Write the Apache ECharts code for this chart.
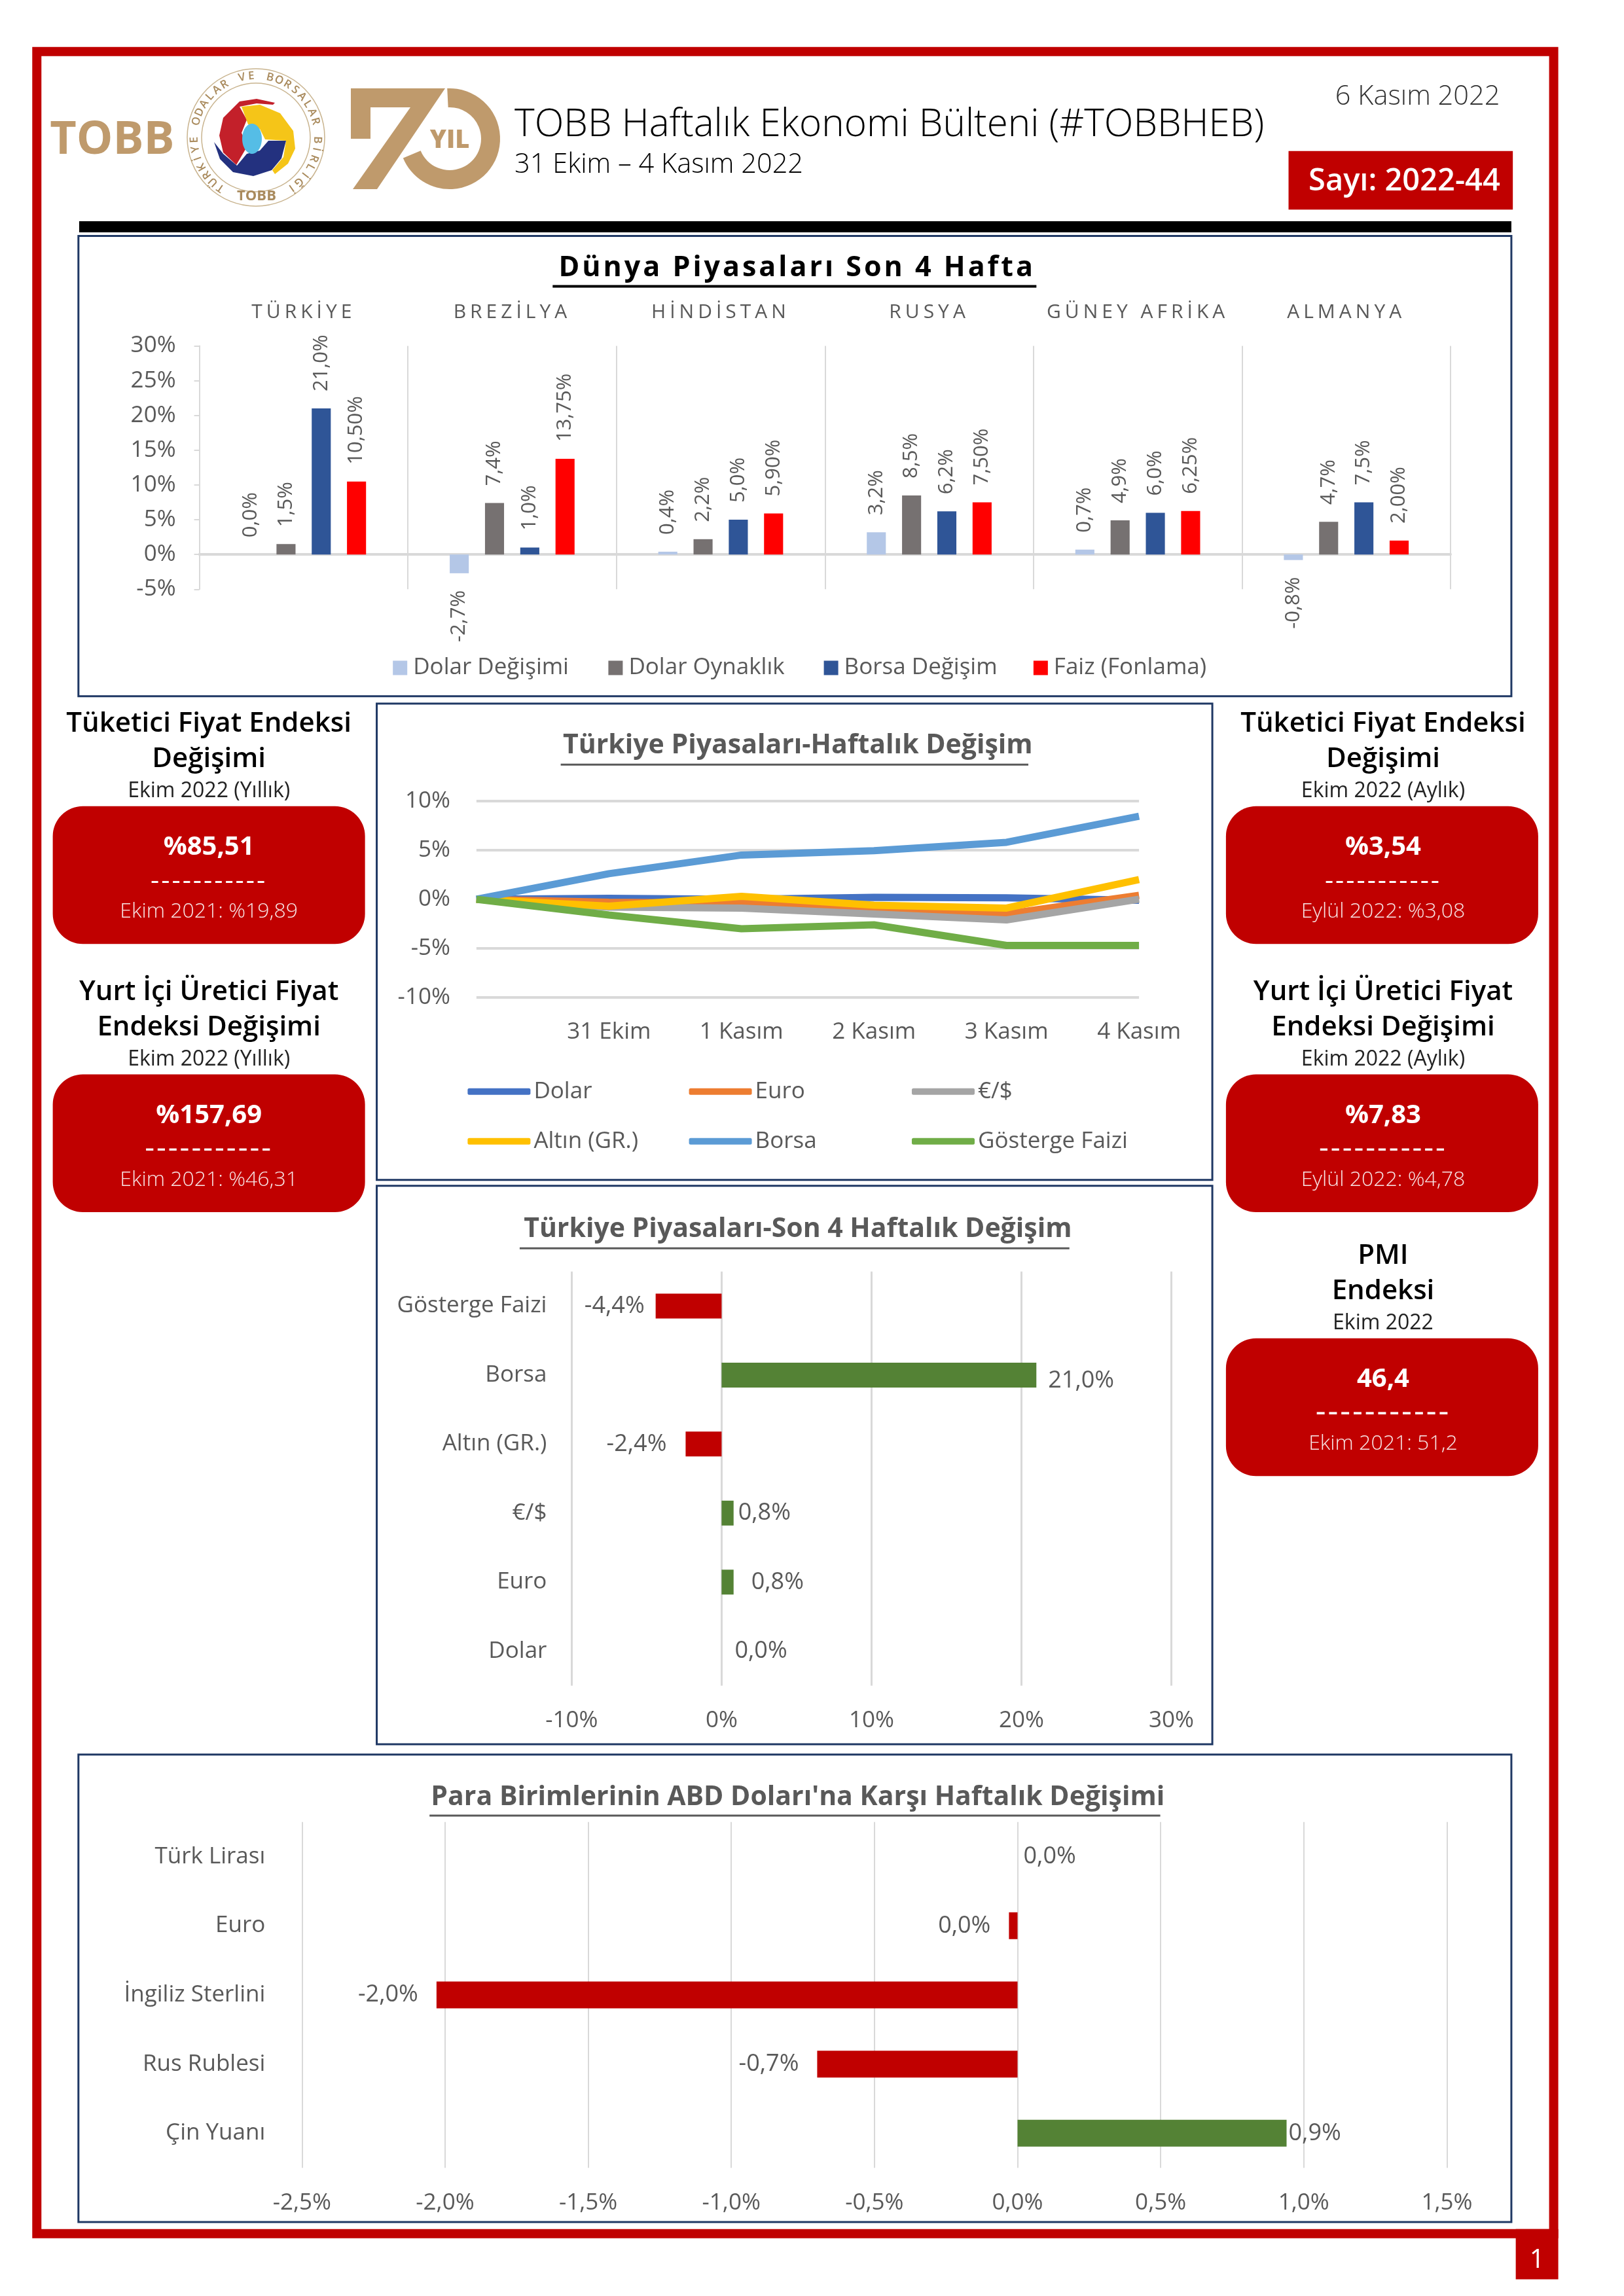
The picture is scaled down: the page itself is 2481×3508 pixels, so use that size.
<!DOCTYPE html>
<html><head><meta charset="utf-8">
<style>html,body{margin:0;padding:0;background:#fff}#c{width:2481px;height:3508px}</style>
<script src="https://cdn.jsdelivr.net/npm/echarts@6/dist/echarts.min.js"></script>
</head><body><div id="c"></div>
<script>
// ---------- data ----------
const countries = ['TÜRKİYE','BREZİLYA','HİNDİSTAN','RUSYA','GÜNEY AFRİKA','ALMANYA'];
const dolarDegisimi = [0.0,-2.7,0.4,3.2,0.7,-0.8];
const dolarOynaklik = [1.5,7.4,2.2,8.5,4.9,4.7];
const borsaDegisim  = [21.0,1.0,5.0,6.2,6.0,7.5];
const faizFonlama   = [10.5,13.75,5.9,7.5,6.25,2.0];

const days = ['','31 Ekim','1 Kasım','2 Kasım','3 Kasım','4 Kasım'];
const lineDolar  = [0,0.1,0,0.2,0.15,-0.1];
const lineEuro   = [0,-0.3,-0.4,-1.0,-1.5,0.4];
const lineEurUsd = [0,-0.8,-0.9,-1.5,-2.1,0.0];
const lineAltin  = [0,-0.7,0.3,-0.6,-0.9,2.0];
const lineBorsa  = [0,2.6,4.5,4.95,5.8,8.45];
const lineFaiz   = [0,-1.6,-3.0,-2.6,-4.7,-4.7];

const assets = ['Gösterge Faizi','Borsa','Altın (GR.)','€/$','Euro','Dolar'];
const assetChange = [-4.4,21.0,-2.4,0.8,0.8,0.0];

const currencies = ['Türk Lirası','Euro','İngiliz Sterlini','Rus Rublesi','Çin Yuanı'];
const currencyChange = [0.0,-0.03,-2.03,-0.70,0.94];

const kpiTitles = [['Tüketici Fiyat Endeksi','Değişimi'],['Yurt İçi Üretici Fiyat','Endeksi Değişimi'],['Tüketici Fiyat Endeksi','Değişimi'],['Yurt İçi Üretici Fiyat','Endeksi Değişimi'],['PMI','Endeksi']];
const kpiSubs   = ['Ekim 2022 (Yıllık)','Ekim 2022 (Yıllık)','Ekim 2022 (Aylık)','Ekim 2022 (Aylık)','Ekim 2022'];
const kpiValues = ['%85,51','%157,69','%3,54','%7,83','46,4'];
const kpiPrev   = ['Ekim 2021: %19,89','Ekim 2021: %46,31','Eylül 2022: %3,08','Eylül 2022: %4,78','Ekim 2021: 51,2'];

// ---------- helpers ----------
const d = v => v * 2.2395;
const FF = '"Open Sans"';
const GREY = '#595959', LINE = '#d9d9d9', RED = '#c00000', GREEN = '#548235', NAVY = '#1f3864', GOLD = '#bf9a6c';
const pct = (v, n) => (Math.abs(v) < 0.05 && n === 1 ? 0 : v).toFixed(n).replace('.', ',') + '%';

// letter-spaced strings of the reference
const spaced = {'Dünya Piyasaları Son 4 Hafta':'4px','-----------':'3px'};
countries.forEach(c => spaced[c] = '6px');
const _ft = CanvasRenderingContext2D.prototype.fillText;
CanvasRenderingContext2D.prototype.fillText = function (t, x, y, w) {
  if ('letterSpacing' in this) this.letterSpacing = spaced[t] || '0px';
  return w === undefined ? _ft.call(this, t, x, y) : _ft.call(this, t, x, y, w);
};

const graphics = [];
const txt = (s, x, y, size, o = {}) => graphics.push({type:'text', x, y, z:o.z||5, rotation:o.rot||0,
  style:{text:s, fill:o.color||'#000', fontFamily:o.family||FF, fontSize:size, fontWeight:o.weight||400,
         align:o.align||'center', verticalAlign:'middle'}});
const rect = (x0,y0,x1,y1,o={}) => graphics.push({type:'rect', z:o.z||1,
  shape:{x:x0,y:y0,width:x1-x0,height:y1-y0,r:o.r||0},
  style:{fill:o.fill||'none', stroke:o.stroke||null, lineWidth:o.lw||0}});
const poly = (pts, fill) => graphics.push({type:'polygon', z:3, shape:{points:pts}, style:{fill}});

// page frame
rect(d(22)+7, d(32)+7, d(1063)-7, d(1527)-7, {stroke:RED, lw:14});
rect(d(1034), d(1527)-14, d(1063), d(1555), {fill:RED});
txt('1', d(1048.5), d(1542), 40, {color:'#fff'});
rect(d(54), 338, d(1031), 355, {fill:'#000'});

// header text
txt('TOBB Haftalık Ekonomi Bülteni (#TOBBHEB)', d(351), d(85.5), 58.4, {align:'left', weight:300});
txt('31 Ekim – 4 Kasım 2022', d(351), d(112.5), 41.5, {align:'left', weight:300});
txt('6 Kasım 2022', d(967), d(66), 41.5, {weight:300, color:'#333'});
rect(d(879), d(103), d(1032), d(143), {fill:RED});
txt('Sayı: 2022-44', d(958), d(124), 47, {color:'#fff', weight:600});

// TOBB wordmark
txt('TOBB', d(76.5), 215, 70, {color:GOLD, weight:700});
// seal
[[105,1.5],[83,1.5]].forEach(([r,lw]) => graphics.push({type:'circle', z:2, shape:{cx:391,cy:210,r}, style:{fill:'none',stroke:'#c9b48f',lineWidth:lw}}));
poly([[420,157],[392,151],[366,155],[341,180],[335,207],[341,233],[361,252],[378,223],[369,203],[377,183],[366,163],[392,158],[417,160]],'#c3202a');
poly([[369,163],[397,160],[428,173],[448,200],[451,227],[440,250],[420,266],[416,260],[433,240],[437,215],[405,213],[397,197],[379,190]],'#f5c518');
poly([[327,217],[336,243],[356,263],[387,269],[415,260],[430,242],[437,215],[410,215],[397,230],[377,235],[362,253],[341,235]],'#23317f');
graphics.push({type:'ellipse', z:4, shape:{cx:385,cy:212,rx:15,ry:23}, style:{fill:'#55bde6'}});
const ringText = 'TÜRKİYE ODALAR VE BORSALAR BİRLİĞİ';
[...ringText].forEach((ch,i) => {
  const a = (-145 + 290 * i / (ringText.length - 1)) * Math.PI / 180;
  if (ch !== ' ') txt(ch, 391 + 94*Math.sin(a), 210 - 94*Math.cos(a), 17, {color:'#a98a5c', weight:600, rot:-a});
});
txt('TOBB', 392, 300, 22, {color:'#a98a5c', weight:700});
// 70 YIL
graphics.push({type:'sector', z:3, shape:{cx:687,cy:212,r:77,r0:48,startAngle:-1.62,endAngle:2.75,clockwise:true}, style:{fill:GOLD}});
poly([[536,135],[680,135],[576,289],[539,289],[627,164],[566,164],[566,212],[536,212]],GOLD);
txt('YIL', 687, 215, 38, {color:GOLD, weight:800});

// panels
[[53.5,161,1031,475],[257,480,827,805],[257,809,827,1190],[53.5,1197,1031,1516]].forEach(p =>
  rect(d(p[0]),d(p[1]),d(p[2]),d(p[3]),{stroke:NAVY,lw:3}));

// underlines of the chart titles
const ul = (x0,x1,y,c,h) => rect(d(x0),d(y),d(x1),d(y)+h,{fill:c,z:6});
ul(377,707,194.5,'#000',4); ul(382.5,701.5,521,GREY,3); ul(354.5,729.5,851,GREY,3); ul(293,791.5,1238,GREY,3);

// KPI cards
const kpiLayout = [[142.5,493],[142.5,676],[943.5,493],[943.5,676],[943.5,856]];
const dashSize = [41,46,41,46,49];
kpiTitles.forEach((t,i) => {
  const [cx, y] = kpiLayout[i];
  const boxX = i < 2 ? cx : cx - 0.7;
  txt(t[0], d(cx), d(y+1), 42, {weight:600});
  txt(t[1], d(cx), d(y+25), 42, {weight:600});
  txt(kpiSubs[i], d(cx), d(y+47), 32, {color:'#222'});
  rect(d(boxX-106.5), d(y+57), d(boxX+106.5), d(y+151), {fill:RED, r:46});
  txt(kpiValues[i], d(cx), d(y+85), 40, {color:'#fff', weight:700});
  txt('-----------', d(cx), d(y+108), dashSize[i], {color:'#fff'});
  txt(kpiPrev[i], d(cx), d(y+129), 32, {color:'#f8e6e6', weight:300});
});

// ---------- chart option ----------
const grids = [
  {left:d(136), top:d(236), width:d(853.5), height:d(166)},
  {left:d(325), top:d(546.5), width:d(452), height:d(134)},
  {left:d(390), top:d(867.5), width:d(409), height:d(282.5)},
  {left:d(206), top:d(1243), width:d(781), height:d(236)}
];
const tick = {color:GREY, fontFamily:FF, fontSize:35};
const xAxes = [
  {gridIndex:0, type:'category', data:countries, axisLabel:{show:false}, axisTick:{show:false},
   axisLine:{onZero:true, lineStyle:{color:LINE,width:4}}, splitLine:{show:true,lineStyle:{color:LINE,width:2}}},
  {gridIndex:0, type:'category', data:countries, position:'top', axisLine:{show:false}, axisTick:{show:false},
   axisLabel:{interval:0, margin:d(16), color:GREY, fontFamily:FF, fontSize:30}},
  {gridIndex:1, type:'category', data:days, boundaryGap:false, axisLine:{show:false,onZero:false}, axisTick:{show:false},
   axisLabel:{...tick, interval:0, margin:36}},
  {gridIndex:2, type:'value', min:-10, max:30, interval:10, axisLabel:{...tick, margin:36, formatter:v=>v+'%'},
   axisLine:{show:false}, axisTick:{show:false}, splitLine:{lineStyle:{color:LINE,width:3}}},
  {gridIndex:3, type:'value', min:-2.5, max:1.5, interval:0.5, axisLabel:{...tick, margin:36, formatter:v=>pct(v,1)},
   axisLine:{show:false}, axisTick:{show:false}, splitLine:{lineStyle:{color:LINE,width:2}}}
];
const yAxes = [
  {gridIndex:0, type:'value', min:-5, max:30, interval:5, axisLabel:{...tick, margin:36, formatter:v=>v+'%'},
   axisLine:{show:true,lineStyle:{color:LINE,width:2}}, axisTick:{show:true,length:8,lineStyle:{color:LINE,width:2}}, splitLine:{show:false}},
  {gridIndex:1, type:'value', min:-10, max:10, interval:5, axisLabel:{...tick, margin:40, formatter:v=>v+'%'},
   axisLine:{show:false}, axisTick:{show:false}, splitLine:{lineStyle:{color:LINE,width:4}}},
  {gridIndex:2, type:'category', data:assets, inverse:true, axisLine:{show:false,onZero:false}, axisTick:{show:false},
   axisLabel:{...tick, interval:0, margin:38}},
  {gridIndex:3, type:'category', data:currencies, inverse:true, axisLine:{show:false,onZero:false}, axisTick:{show:false},
   axisLabel:{...tick, interval:0, margin:56}}
];

const worldBar = (name, values, color, dec) => ({
  name, type:'bar', xAxisIndex:0, yAxisIndex:0, barWidth:d(13), barGap:'85%', itemStyle:{color},
  data: values.map(v => ({value:v, label:{position:v<0?'bottom':'top', align:v<0?'right':'left'}})),
  label:{show:true, rotate:90, verticalAlign:'middle', distance:26, color:GREY, fontFamily:FF, fontSize:31,
         formatter:p=>pct(p.value,dec)}
});
const lineS = (name, data, color) => ({name, type:'line', xAxisIndex:2, yAxisIndex:1, data, symbol:'none',
  lineStyle:{color,width:11}, itemStyle:{color}});
const sign = p => p.value < 0 ? RED : GREEN;
const assetGap = [17,18,29,7,27,20];
const assetDrop = [0,9,0,0,0,0];
const currGap = [9,28,28,28,3];
const currDrop = [0,0,0,0,0];
const hBar = (name, cats, values, xi, yi, h, gaps, drops) => ({
  name, type:'bar', xAxisIndex:xi, yAxisIndex:yi, barWidth:h, itemStyle:{color:sign},
  data: values.map((v,i) => ({value:v, label:{position:v<0?'left':'right', distance:gaps[i], offset:[0,drops[i]]}})),
  label:{show:true, color:GREY, fontFamily:FF, fontSize:36, formatter:p=>pct(p.value,1)}
});

const legendItem = (name, left, top, w, h, icon, pad) => ({data:[name], left:d(left), top:d(top)-16, padding:0,
  itemWidth:w, itemHeight:h, icon, selectedMode:false, textStyle:{color:GREY,fontFamily:FF,fontSize:35,padding:[0,0,0,pad]}});
const legends = [
  ['Dolar Değişimi',268,455],['Dolar Oynaklık',415,455],['Borsa Değişim',562,455],['Faiz (Fonlama)',705,455]
].map(a => legendItem(a[0],a[1],a[2],22,22,'rect',4)).concat([
  ['Dolar',319,744],['Euro',470,744],['€/$',622,744],['Altın (GR.)',319,778],['Borsa',470,778],['Gösterge Faizi',622,778]
].map(a => legendItem(a[0],a[1],a[2],96,10,'roundRect',0)));

const title = (text,x,y,size,color) => ({text, left:d(x), top:d(y)-size*0.72, textAlign:'center',
  textStyle:{color,fontFamily:FF,fontSize:size,fontWeight:700}});

const option = {
  animation:false, backgroundColor:'#fff',
  title:[
    title('Dünya Piyasaları Son 4 Hafta',541.5,185,43,'#000'),
    title('Türkiye Piyasaları-Haftalık Değişim',542,510.5,41,GREY),
    title('Türkiye Piyasaları-Son 4 Haftalık Değişim',542,840.5,41,GREY),
    title("Para Birimlerinin ABD Doları'na Karşı Haftalık Değişimi",542,1228,41,GREY)
  ],
  grid:grids.map(g => ({...g, containLabel:false})),
  xAxis:xAxes, yAxis:yAxes, legend:legends,
  series:[
    worldBar('Dolar Değişimi',dolarDegisimi,'#b4c7e7',1),
    worldBar('Dolar Oynaklık',dolarOynaklik,'#767171',1),
    worldBar('Borsa Değişim',borsaDegisim,'#2f5597',1),
    worldBar('Faiz (Fonlama)',faizFonlama,'#ff0000',2),
    lineS('Dolar',lineDolar,'#4472c4'),
    lineS('Euro',lineEuro,'#ed7d31'),
    lineS('€/$',lineEurUsd,'#a5a5a5'),
    lineS('Altın (GR.)',lineAltin,'#ffc000'),
    lineS('Borsa',lineBorsa,'#5b9bd5'),
    lineS('Gösterge Faizi',lineFaiz,'#70ad47'),
    hBar('Son 4 Hafta',assets,assetChange,3,2,38,assetGap,assetDrop),
    hBar('Haftalık',currencies,currencyChange,4,3,41,currGap,currDrop)
  ],
  graphic:graphics
};
const chart = echarts.init(document.getElementById('c'), null, {width:2481,height:3508});
chart.setOption(option);
</script></body></html>
